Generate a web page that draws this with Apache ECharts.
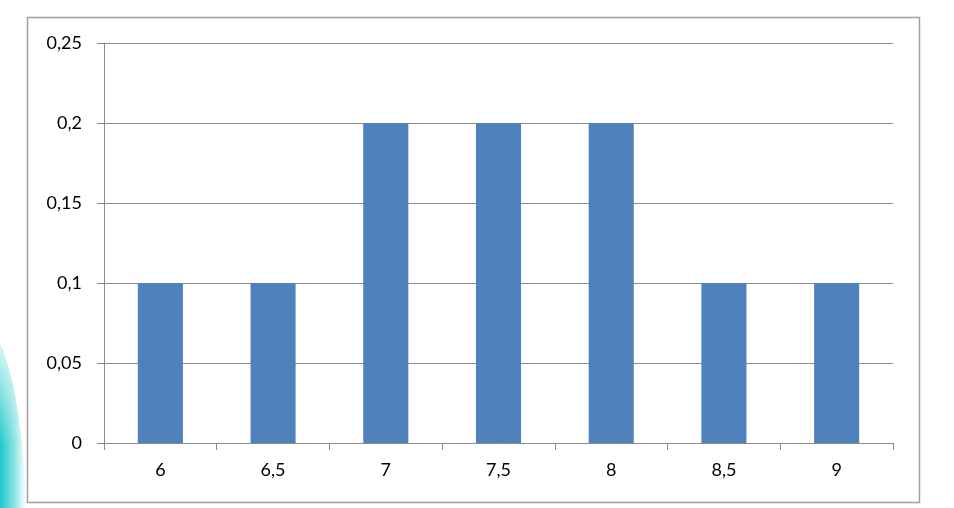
<!DOCTYPE html>
<html><head><meta charset="utf-8">
<script src="https://cdn.jsdelivr.net/npm/echarts@6/dist/echarts.min.js"></script>
<style>html,body{margin:0;padding:0;background:#fff}#c{width:954px;height:508px}</style>
</head><body><div id="c"></div>
<script>
const categories = ['6', '6,5', '7', '7,5', '8', '8,5', '9'];
const values = [0.1, 0.1, 0.2, 0.2, 0.2, 0.1, 0.1];
const yTicks = [0, 0.05, 0.1, 0.15, 0.2, 0.25];

const chart = echarts.init(document.getElementById('c'), null, {renderer: 'canvas'});
const gray = '#8c8c8c';
const font = 'Lato, "Open Sans", sans-serif';
chart.setOption({
  animation: false,
  graphic: [
    {type: 'circle', z: 0, x: -20, y: 525, scaleX: 0.23, scaleY: 1,
     shape: {cx: 0, cy: 0, r: 200},
     style: {fill: {type: 'linear', x: 0, y: 0, x2: 1, y2: 0, colorStops: [
       {offset: 0, color: '#00c0c0'}, {offset: 0.7, color: '#10c6c6'}, {offset: 0.86, color: '#80e0e0'}, {offset: 1, color: '#ffffff'}]}}},
    {type: 'circle', z: 1, x: -20, y: 525, scaleX: 0.23, scaleY: 1,
     shape: {cx: 0, cy: 0, r: 200},
     style: {fill: {type: 'linear', x: 0, y: 0, x2: 0, y2: 1, colorStops: [
       {offset: 0, color: 'rgba(255,255,255,1)'}, {offset: 0.06, color: 'rgba(255,255,255,0.8)'}, {offset: 0.3, color: 'rgba(255,255,255,0)'}, {offset: 1, color: 'rgba(255,255,255,0)'}]}}},
    {type: 'rect', z: 2, shape: {x: 27.5, y: 17.5, width: 892, height: 485},
     style: {fill: 'none', stroke: '#a0a0a0', lineWidth: 1.5}}
  ],
  grid: {left: 104, right: 61, top: 43, bottom: 65},
  xAxis: {
    type: 'category', data: categories,
    axisLine: {lineStyle: {color: gray, width: 1}},
    axisTick: {show: true, length: 7, lineStyle: {color: gray}},
    axisLabel: {color: '#000', fontSize: 18, fontFamily: font, margin: 18}
  },
  yAxis: {
    type: 'value', min: 0, max: 0.25, interval: 0.05,
    axisLine: {show: true, lineStyle: {color: gray, width: 1}},
    axisTick: {show: true, length: 7, lineStyle: {color: gray}},
    splitLine: {lineStyle: {color: gray, width: 1}},
    axisLabel: {color: '#000', fontSize: 18, fontFamily: font, margin: 22,
      formatter: v => { const t = yTicks.find(x => Math.abs(x - v) < 1e-9); return String(t !== undefined ? t : v).replace('.', ','); }}
  },
  series: [{type: 'bar', data: values, barWidth: '40%', itemStyle: {color: '#4f81bd'}}]
});
</script></body></html>
